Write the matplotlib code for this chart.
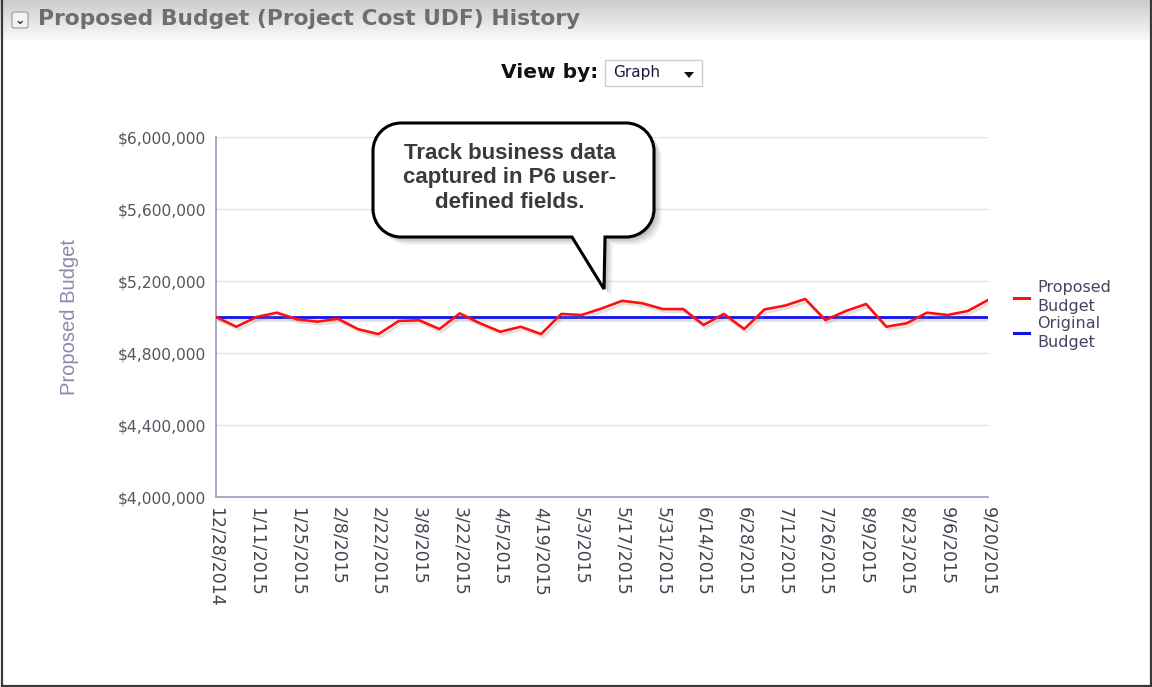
import matplotlib
matplotlib.use("Agg")
import matplotlib.pyplot as plt
import matplotlib.patheffects as pe
from matplotlib.path import Path
from matplotlib.patches import PathPatch, FancyBboxPatch, Rectangle, Polygon
from matplotlib.lines import Line2D
import numpy as np
import pandas as pd

# ---------------- data ----------------
weeks = pd.date_range("2014-12-28", periods=39, freq="7D")
proposed_budget = [5000000, 4946000, 5000000, 5024000, 4987000, 4974000, 4990000, 4932000,
                   4905000, 4978000, 4982000, 4933000, 5020000, 4965000, 4918000, 4946000,
                   4905000, 5017000, 5011000, 5048000, 5090000, 5076000, 5044000, 5044000,
                   4956000, 5017000, 4933000, 5042000, 5063000, 5100000, 4983000, 5033000,
                   5072000, 4946000, 4965000, 5024000, 5011000, 5033000, 5094000]
original_budget = [5000000] * len(proposed_budget)
y_ticks = [4000000, 4400000, 4800000, 5200000, 5600000, 6000000]
series_labels = ["Proposed\nBudget", "Original\nBudget"]
title_text = "Proposed Budget (Project Cost UDF) History"
callout_text = "Track business data\ncaptured in P6 user-\ndefined fields."

W, H = 1152, 687
fig = plt.figure(figsize=(W / 100, H / 100), dpi=100)
fig.patch.set_facecolor("white")

def fx(x):
    return x / W

def fy(y):
    return 1 - y / H

# ---------------- title bar ----------------
bar = fig.add_axes([0, fy(40), 1, 40 / H])
bar.set_axis_off()
grad = np.linspace(0.80, 0.98, 64).reshape(-1, 1)
bar.imshow(np.dstack([grad, grad, grad]), aspect="auto", extent=[0, 1, 0, 1], origin="upper")
bar.set_xlim(0, 1)
bar.set_ylim(0, 1)
# collapse icon
fig.add_artist(FancyBboxPatch((fx(12), fy(28)), 16 / W, 16 / H, boxstyle="round,pad=0.0,rounding_size=0.003",
                              transform=fig.transFigure, facecolor="#f4f4f4", edgecolor="#9a9a9a", lw=0.8))
fig.text(fx(20), fy(20), "\u2304", ha="center", va="center", fontsize=9, color="#333333",
         family="DejaVu Sans", fontweight="bold")
fig.text(fx(38), fy(19), title_text, ha="left", va="center", fontsize=15.7,
         fontweight="bold", color="#6e6e6e", family="DejaVu Sans")

# outer border (left, right, bottom)
for xs, ys in [([1.5, 1.5], [0, 685.5]), ([1150.5, 1150.5], [0, 685.5]), ([1.5, 1150.5], [685.5, 685.5])]:
    fig.add_artist(Line2D([fx(v) for v in xs], [fy(v) for v in ys], transform=fig.transFigure,
                          color="#3a3a3a", lw=1.6))

# ---------------- view by ----------------
fig.text(fx(598), fy(73), "View by:", ha="right", va="center", fontsize=14.5,
         fontweight="bold", color="#111111", family="DejaVu Sans")
fig.add_artist(Rectangle((fx(605), fy(86)), 97 / W, 26 / H, transform=fig.transFigure,
                         facecolor="white", edgecolor="#cfcfcf", lw=1))
fig.text(fx(613), fy(73), "Graph", ha="left", va="center", fontsize=11,
         color="#1a1a3a", family="DejaVu Sans")
fig.add_artist(Polygon([(fx(684), fy(72)), (fx(694), fy(72)), (fx(689), fy(78))], closed=True,
                       transform=fig.transFigure, facecolor="#111111", edgecolor="none"))

# ---------------- chart ----------------
ax = fig.add_axes([fx(216), fy(497), 772 / W, 360 / H])
shadow = [pe.SimpleLineShadow(offset=(1.5, -2), shadow_color="#888888", alpha=0.25), pe.Normal()]
ax.plot(weeks, original_budget, color="#1010f0", lw=2.0, label=series_labels[1], zorder=3,
        path_effects=shadow)
ax.plot(weeks, proposed_budget, color="#ff1010", lw=1.9, label=series_labels[0], zorder=4,
        path_effects=shadow)

ax.set_xlim(weeks[0], weeks[-1])
ax.set_ylim(y_ticks[0], y_ticks[-1])
ax.set_yticks(y_ticks)
ax.set_yticklabels([f"${v:,.0f}" for v in y_ticks], fontsize=11.2, color="#555560",
                   family="DejaVu Sans")
tick_dates = weeks[::2]
ax.set_xticks(tick_dates)
ax.set_xticklabels([f"{d.month}/{d.day}/{d.year}" for d in tick_dates], rotation=270,
                   fontsize=12.5, color="#444450", family="DejaVu Sans", va="top", ha="center")
ax.tick_params(axis="both", length=0, pad=7)
ax.tick_params(axis="x", pad=7)
ax.grid(axis="y", color="#e2e2ea", lw=1)
ax.set_axisbelow(True)
for s in ["top", "right"]:
    ax.spines[s].set_visible(False)
for s in ["left", "bottom"]:
    ax.spines[s].set_color("#9a9ac0")
    ax.spines[s].set_linewidth(1.2)
ax.set_ylabel("Proposed Budget", fontsize=14.5, color="#8a8aaa", family="Liberation Sans", labelpad=0)
ax.yaxis.set_label_coords((fx(79) - fx(216)) / (772 / W), 0.5)

handles, labels = ax.get_legend_handles_labels()
leg = fig.legend(handles[::-1], labels[::-1], loc="upper left",
                 bbox_to_anchor=(fx(1008), fy(274)), frameon=False, handlelength=0.9,
                 handletextpad=0.55, labelspacing=0.12, borderaxespad=0,
                 prop={"family": "DejaVu Sans", "size": 11.5})
for t in leg.get_texts():
    t.set_color("#454560")
    t.set_linespacing(1.32)
for h in leg.legend_handles:
    h.set_path_effects([])
    h.set_linewidth(2.2)

# ---------------- callout bubble ----------------
def bubble_path(x0, y0, x1, y1, r, tail):
    # coordinates in pixels (top-left origin); tail = (xl, xr, xt, yt)
    xl, xr, xt, yt = tail
    k = 0.5523 * r
    pts = [(x0 + r, y0), (x1 - r, y0),
           (x1 - r + k, y0), (x1, y0 + r - k), (x1, y0 + r),
           (x1, y1 - r),
           (x1, y1 - r + k), (x1 - r + k, y1), (x1 - r, y1),
           (xr, y1), (xt, yt), (xl, y1),
           (x0 + r, y1),
           (x0 + r - k, y1), (x0, y1 - r + k), (x0, y1 - r),
           (x0, y0 + r),
           (x0, y0 + r - k), (x0 + r - k, y0), (x0 + r, y0),
           (x0 + r, y0)]
    codes = [Path.MOVETO, Path.LINETO,
             Path.CURVE4, Path.CURVE4, Path.CURVE4,
             Path.LINETO,
             Path.CURVE4, Path.CURVE4, Path.CURVE4,
             Path.LINETO, Path.LINETO, Path.LINETO,
             Path.LINETO,
             Path.CURVE4, Path.CURVE4, Path.CURVE4,
             Path.LINETO,
             Path.CURVE4, Path.CURVE4, Path.CURVE4,
             Path.CLOSEPOLY]
    verts = [(fx(x), fy(y)) for x, y in pts]
    return Path(verts, codes)

bx0, by0, bx1, by1 = 373, 123, 654, 237
for off, a in [(8, 0.08), (6, 0.12), (4, 0.16), (2, 0.2)]:
    sp = bubble_path(bx0 + off, by0 + off, bx1 + off, by1 + off, 28, (572 + off, 605 + off, 604 + off, 289 + off))
    fig.add_artist(PathPatch(sp, transform=fig.transFigure, facecolor="#666666", edgecolor="none",
                             alpha=a, zorder=9))
bp = bubble_path(bx0, by0, bx1, by1, 28, (572, 605, 604, 289))
fig.add_artist(PathPatch(bp, transform=fig.transFigure, facecolor="white", edgecolor="black",
                         lw=2.2, zorder=10, joinstyle="miter"))
fig.text(fx(510), fy(178), callout_text, ha="center", va="center", fontsize=16,
         fontweight="bold", color="#3a3a3a", family="Liberation Sans", linespacing=1.22, zorder=11)

fig.savefig("out.png", dpi=100)
